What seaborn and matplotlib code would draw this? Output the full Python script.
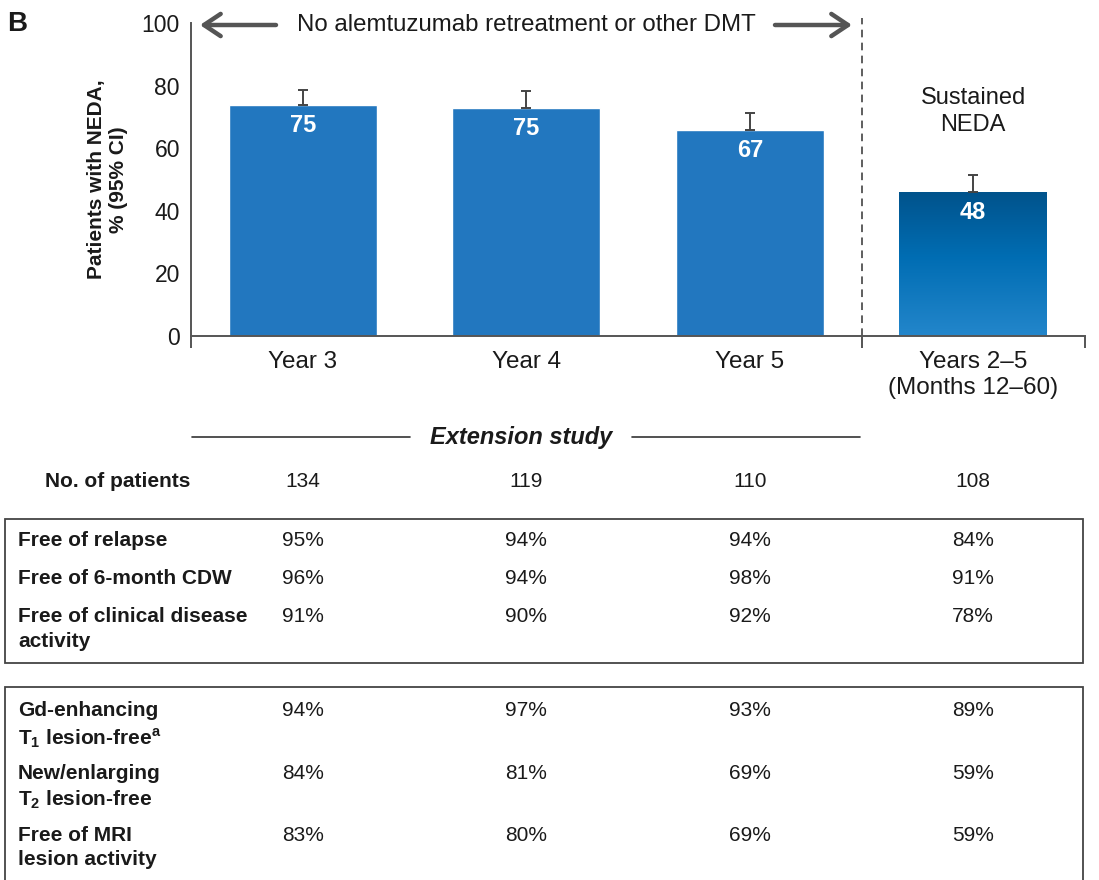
import numpy as np
import matplotlib
matplotlib.use("Agg")
import matplotlib.pyplot as plt
import seaborn as sns
from matplotlib.colors import LinearSegmentedColormap
from matplotlib.patches import Rectangle
from matplotlib.lines import Line2D
from matplotlib.transforms import blended_transform_factory

# === data ===
groups = ["Year 3", "Year 4", "Year 5", "Years 2–5\n(Months 12–60)"]
neda_pct = [73.7, 72.9, 65.8, 46.0]
ci_upper = [78.6, 78.3, 71.2, 51.4]
bar_labels = ["75", "75", "67", "48"]
n_patients = ["134", "119", "110", "108"]

clinical_rows = ["Free of relapse", "Free of 6-month CDW",
                 "Free of clinical disease\nactivity"]
clinical_vals = [[95, 94, 94, 84],
                 [96, 94, 98, 91],
                 [91, 90, 92, 78]]

mri_rows = [r"Gd-enhancing" + "\n" + r"$\mathbf{T_1}$ lesion-free$^{\mathbf{a}}$",
            r"New/enlarging" + "\n" + r"$\mathbf{T_2}$ lesion-free",
            "Free of MRI\nlesion activity"]
mri_vals = [[94, 97, 93, 89],
            [84, 81, 69, 59],
            [83, 80, 69, 59]]

# === style ===
sns.set_theme(style="white")
plt.rcParams["font.family"] = ["Liberation Sans", "DejaVu Sans"]
plt.rcParams["mathtext.fontset"] = "custom"
plt.rcParams["mathtext.rm"] = "Liberation Sans"
plt.rcParams["mathtext.bf"] = "Liberation Sans:bold"

W, H = 1099, 880
txt = "#1a1a1a"
gray = "#555555"
blue = "#2277BF"
tsize = 15

def fx(px):
    return px / W

def fy(py):
    return 1 - py / H

fig = plt.figure(figsize=(W / 100, H / 100), dpi=100)
ax = fig.add_axes([fx(191), fy(336), fx(1085) - fx(191), fy(23) - fy(336)])

# bars
sns.barplot(x=groups, y=neda_pct, color=blue, saturation=1, width=0.66, ax=ax)

# gradient on the sustained NEDA bar
bar = ax.patches[3]
cmap = LinearSegmentedColormap.from_list(
    "neda", [(0, "#2386CB"), (0.55, "#006DB3"), (1, "#00538C")])
grad = np.linspace(0, 1, 256).reshape(-1, 1)
im = ax.imshow(grad, extent=[bar.get_x(), bar.get_x() + bar.get_width(), 0, bar.get_height()],
               aspect="auto", cmap=cmap, origin="lower", zorder=bar.get_zorder() + 0.1)
im.set_clip_path(bar)

# upper CI only
err_up = np.array(ci_upper) - np.array(neda_pct)
ax.errorbar(x=np.arange(len(groups)), y=neda_pct, yerr=[np.zeros(len(groups)), err_up],
            fmt="none", ecolor="#444444", elinewidth=1.4, capsize=3.3, capthick=1.4, zorder=3)

# value labels inside bars
for i, (h, lab) in enumerate(zip(neda_pct, bar_labels)):
    ax.text(i, h - 6.5, lab, ha="center", va="center", color="white",
            fontsize=17, fontweight="bold", zorder=5)

ax.set_xlim(-0.5, 3.5)
ax.set_ylim(0, 100)
ax.set_yticks(range(0, 101, 20))
ax.tick_params(axis="y", length=6, width=1.4, color=gray, labelsize=16.5, pad=2, labelcolor=txt)
ax.tick_params(axis="x", which="major", length=0, pad=11, labelsize=17.5, labelcolor=txt)
ax.set_xticks([-0.5, 2.5, 3.5], minor=True)
ax.tick_params(axis="x", which="minor", length=8.6, width=1.4, color=gray, bottom=True)
for lbl in ax.get_xticklabels():
    lbl.set_linespacing(1.2)
ax.set_xlabel("")
ax.set_ylabel("Patients with NEDA,\n% (95% CI)", fontsize=15, fontweight="bold", color=txt,
              linespacing=1.15)
ax.yaxis.set_label_coords(-0.071, 0.5)
sns.despine(ax=ax)
for s in ["left", "bottom"]:
    ax.spines[s].set_color(gray)
    ax.spines[s].set_linewidth(1.4)

# dashed divider
ax.plot([2.5, 2.5], [0, 101.5], ls=(0, (5, 3.5)), color="#333333", lw=1.1, clip_on=False)

ax.text(3, 71.6, "Sustained\nNEDA", ha="center", va="center", fontsize=17,
        color=txt, linespacing=1.3)

# header text + arrows
fig.text(fx(7), fy(24), "B", fontsize=20, fontweight="bold", color=txt, va="center", ha="left")
fig.text(fx(526), fy(25), "No alemtuzumab retreatment or other DMT", fontsize=17.3,
         ha="center", va="center", color=txt)
arrow = dict(arrowstyle="->,head_length=0.6,head_width=0.4", lw=3.2, color=gray,
             mutation_scale=20, shrinkA=0, shrinkB=0)
ax.annotate("", xy=(fx(200), fy(25)), xytext=(fx(276), fy(25)),
            xycoords="figure fraction", textcoords="figure fraction", arrowprops=arrow)
ax.annotate("", xy=(fx(852), fy(25)), xytext=(fx(775), fy(25)),
            xycoords="figure fraction", textcoords="figure fraction", arrowprops=arrow)

# extension study banner
fig.add_artist(Line2D([fx(192), fx(410)], [fy(437), fy(437)], color="#333333", lw=1.2))
fig.add_artist(Line2D([fx(632), fx(860)], [fy(437), fy(437)], color="#333333", lw=1.2))
fig.text(fx(521), fy(437), "Extension study", fontsize=17, fontweight="bold", fontstyle="italic",
         ha="center", va="center", color=txt)

# table
tr = blended_transform_factory(ax.transData, fig.transFigure)
cols = np.arange(len(groups))

fig.text(fx(45), fy(481), "No. of patients", fontsize=tsize, fontweight="bold",
         ha="left", va="center", color=txt)
for c, n in zip(cols, n_patients):
    ax.text(c, fy(481), n, transform=tr, ha="center", va="center", fontsize=tsize,
            color=txt)

fig.add_artist(Rectangle((fx(5), fy(663)), fx(1083) - fx(5), fy(519) - fy(663),
                         fill=False, edgecolor="#444444", lw=1.3))
fig.add_artist(Rectangle((fx(5), fy(900)), fx(1083) - fx(5), fy(687) - fy(900),
                         fill=False, edgecolor="#444444", lw=1.3))

clin_y = [531, 569, 607]
for lab, vals, y in zip(clinical_rows, clinical_vals, clin_y):
    fig.text(fx(18), fy(y), lab, fontsize=tsize, fontweight="bold", ha="left", va="top",
             color=txt, linespacing=1.42)
    for c, v in zip(cols, vals):
        ax.text(c, fy(y), f"{v}%", transform=tr, ha="center", va="top", fontsize=tsize, color=txt)

mri_y = [701, 764, 826]
for lab, vals, y in zip(mri_rows, mri_vals, mri_y):
    fig.text(fx(18), fy(y), lab, fontsize=tsize, fontweight="bold", ha="left", va="top",
             color=txt, linespacing=1.35)
    for c, v in zip(cols, vals):
        ax.text(c, fy(y), f"{v}%", transform=tr, ha="center", va="top", fontsize=tsize, color=txt)

fig.savefig("out.png", dpi=100)
